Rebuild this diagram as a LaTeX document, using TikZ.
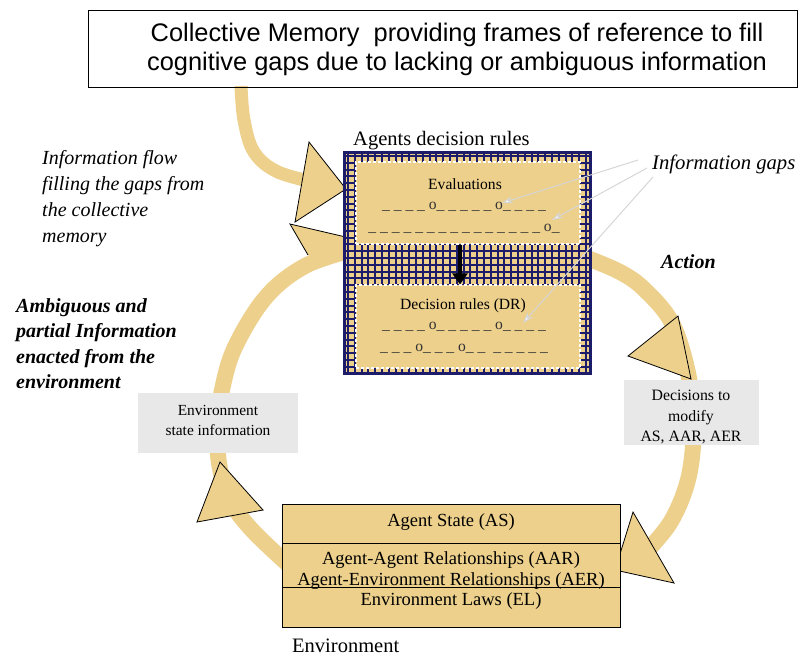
\documentclass[tikz,border=0pt]{standalone}
\usepackage{fontspec}
\setmainfont{Liberation Serif}
\newfontfamily\arialfont{Liberation Sans}
\usetikzlibrary{arrows.meta}
\definecolor{ringtan}{HTML}{ECD08C}
\definecolor{gridnavy}{HTML}{1C1C6A}
\definecolor{panelgray}{HTML}{E8E8E8}
\definecolor{gapgray}{HTML}{D6D6D6}
\newcommand\fsz[1]{\fontsize{#1}{#1}\selectfont}

\begin{document}
\begin{tikzpicture}[x=1pt,y=-1pt,
  band/.style={draw=ringtan, line width=16pt},
  thinband/.style={draw=ringtan, line width=13pt},
  headtri/.style={fill=ringtan, draw=black, line width=0.8pt, line join=miter},
  panel/.style={fill=panelgray, inner sep=0pt},
  tanbox/.style={fill=ringtan, draw=black, line width=0.9pt, inner sep=0pt},
  dashbox/.style={fill=ringtan, draw=white, line width=1.1pt, dash pattern=on 3pt off 2pt, inner sep=0pt},
  gaparrow/.style={draw=gapgray, line width=1pt, -{Stealth[length=11pt,width=7pt,open,fill=white]}},
  plain/.style={inner sep=0pt},
  leftlabel/.style={inner sep=0pt, align=left, anchor=north west},
]
\useasboundingbox (0,0) rectangle (799,657);

% ---- circulation bands ----
\coordinate (flowstart) at (241,86);
\coordinate (flowend) at (322,184);
\draw[thinband] plot[smooth, tension=0.6] coordinates
  {(flowstart) (244,120) (254,152) (278,172) (flowend)};
\draw[band] plot[smooth, tension=0.6] coordinates
  {(292,568) (252,530) (230,500) (219,463) (218,425) (222,390) (235,347) (266,297) (305,266) (352,250)};
\draw[band] plot[smooth, tension=0.6] coordinates
  {(582,256) (620,272) (645,290) (672,323) (688,373) (693,420) (692,457) (685,490) (670,523) (648,550)};

% ---- arrowheads ----
\draw[headtri] (309,142) -- (346,189) -- (295,222) -- cycle;
\fill[ringtan] (290,224) -- (350,238) -- (350,256) -- (308,255) -- cycle;
\draw[black, line width=0.8pt, line join=miter] (350,238) -- (290,224) -- (308,255);
\draw[headtri] (678,316) -- (691,379) -- (628,356) -- cycle;
\draw[headtri] (633,512) -- (674,583) -- (615,570) -- cycle;
\draw[headtri] (220,462) -- (263,510) -- (197,522) -- cycle;

% ---- collective memory box ----
\node[draw=black, line width=1pt, minimum width=709pt, minimum height=77pt, inner sep=0pt]
  (memory) at (442.5,48.5) {};
\node[plain, align=center, font=\arialfont\fontsize{25.4}{29}\selectfont] (memtext) at (457,49)
  {Collective Memory\ \ providing frames of reference to fill\\cognitive gaps due to lacking or ambiguous information};

% ---- agents decision rules ----
\node[plain, anchor=base west, font=\fsz{20.5}] (agentstitle) at (353,145) {Agents decision rules};
\node[fill=ringtan, minimum width=245pt, minimum height=220pt, inner sep=0pt] (agents) at (467.5,263) {};
\begin{scope}
  \clip (agents.north west) rectangle (agents.south east);
  \foreach \i in {0,...,36} \draw[gridnavy, line width=2pt] (348+\i*6.8,153) -- ++(0,220);
  \foreach \j in {0,...,32} \draw[gridnavy, line width=2pt] (345,156+\j*6.8) -- ++(245,0);
\end{scope}
\draw[gridnavy, line width=3pt] (agents.north west) rectangle (agents.south east);

\node[dashbox, minimum width=224pt, minimum height=82pt] (evalbox) at (468,203) {};
\node[dashbox, minimum width=224pt, minimum height=83pt] (drbox) at (468,326.5) {};

\node[plain, font=\fsz{15.6}] (evaltitle) at (465,184) {Evaluations};
\node[plain, font=\fsz{15.6}, text=black!80] (evalA) at (464,207)
  {\_ \_ \_ \_ o\_ \_ \_ \_ \_ o\_ \_ \_ \_};
\node[plain, font=\fsz{15.6}, text=black!80] (evalB) at (464,229)
  {\_ \_ \_ \_ \_ \_ \_ \_ \_ \_ \_ \_ \_ \_ \_ o\_};
\node[plain, font=\fsz{15.6}] (drtitle) at (463,306) {Decision rules (DR)};
\node[plain, font=\fsz{15.6}, text=black!80] (drA) at (464,327)
  {\_ \_ \_ \_ o\_ \_ \_ \_ \_ o\_ \_ \_ \_};
\node[plain, font=\fsz{15.6}, text=black!80] (drB) at (464,349)
  {\_ \_ \_ o\_ \_ \_ o\_ \_ \ \_ \_ \_ \_ \_};

\draw[black, line width=4pt, -{Triangle[length=11pt,width=15pt]}]
  ([xshift=-8pt]evalbox.south) -- ([xshift=-8pt]drbox.north);

% ---- side panels ----
\node[panel, minimum width=160pt, minimum height=60pt] (envstate) at (218,423) {};
\node[plain, align=center, font=\fontsize{15.4}{20}\selectfont] (envstateText) at (218,420)
  {Environment\\state information};
\node[panel, minimum width=135pt, minimum height=65pt] (decisions) at (691.5,412.5) {};
\node[plain, align=center, font=\fontsize{15.8}{20.5}\selectfont] (decisionsText) at (691,417)
  {Decisions to\\modify\\AS, AAR, AER};

% ---- environment box ----
\node[tanbox, minimum width=338pt, minimum height=39pt] (envAS) at (451,523.5) {};
\node[tanbox, minimum width=338pt, minimum height=44pt] (envRel) at (451,565) {};
\node[tanbox, minimum width=338pt, minimum height=40pt] (envEL) at (451,607) {};
\node[plain, font=\fsz{18.5}] (asText) at (451,522) {Agent State (AS)};
\node[plain, font=\fsz{18.5}] (aarText) at (451,560) {Agent-Agent Relationships (AAR)};
\node[plain, font=\fsz{18.5}] (aerText) at (451,581) {Agent-Environment Relationships (AER)};
\node[plain, font=\fsz{18.5}] (elText) at (451,601) {Environment Laws (EL)};
\node[plain, anchor=base west, font=\fsz{20.5}] (envLabel) at (292,652) {Environment};

% ---- free labels ----
\node[leftlabel, font=\itshape\fontsize{20}{26.2}\selectfont] (flowLabel) at (42,150)
  {Information flow\\filling the gaps from\\the collective\\memory};
\node[leftlabel, font=\bfseries\itshape\fontsize{20}{25.5}\selectfont] (ambLabel) at (16,298)
  {Ambiguous and\\partial Information\\enacted from the\\environment};
\node[plain, anchor=base west, font=\bfseries\itshape\fsz{20}] (actionLabel) at (661,268) {Action};
\node[plain, anchor=base west, font=\itshape\fsz{20.7}] (gapsLabel) at (652,169) {Information gaps};

% ---- information gap pointers ----
\coordinate (gapfromA) at (638,160);
\coordinate (gapfromB) at (647,168);
\coordinate (gapfromC) at (653,177);
\coordinate (gapA) at (502,203);
\coordinate (gapB) at (552,220);
\coordinate (gapC) at (523,323);
\draw[gaparrow] (gapfromA) -- (gapA);
\draw[gaparrow] (gapfromB) -- (gapB);
\draw[gaparrow] (gapfromC) -- (gapC);
\end{tikzpicture}
\end{document}
